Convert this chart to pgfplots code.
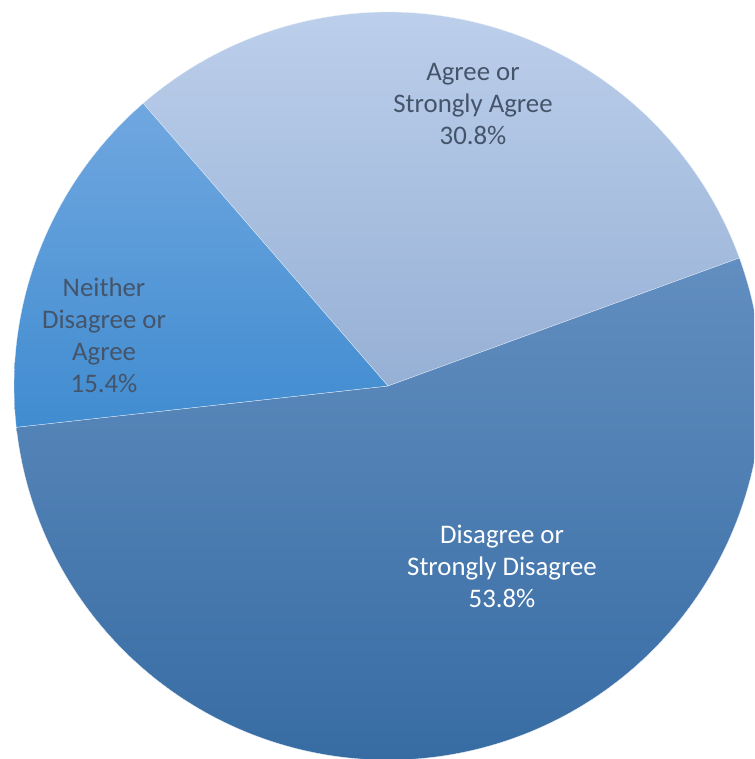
\documentclass[border=0pt]{standalone}
\usepackage{fontspec}
\setmainfont{Carlito}
\usepackage{pgfplots}
\pgfplotsset{compat=1.18}
\definecolor{txtgray}{RGB}{68,84,106}
\definecolor{agTop}{RGB}{188,207,235}
\definecolor{agBot}{RGB}{150,176,213}
\definecolor{diTop}{RGB}{98,142,192}
\definecolor{diBot}{RGB}{55,108,163}
\definecolor{neTop}{RGB}{112,167,224}
\definecolor{neBot}{RGB}{64,140,208}
% shares of the pie (percent)
\def\pAgree{30.8}
\def\pDisagree{53.8}
\def\pNeither{15.4}
\def\startangle{130.9}
\pgfmathsetmacro{\aA}{\startangle}
\pgfmathsetmacro{\aB}{\aA-3.6*\pAgree}
\pgfmathsetmacro{\aC}{\aB-3.6*\pDisagree}
\pgfmathsetmacro{\aD}{\aC-3.6*\pNeither}
\def\cx{388}
\def\cy{373}
\def\rr{374}
\begin{document}
\begin{tikzpicture}
\begin{axis}[
  width=754pt, height=759pt, scale only axis,
  xmin=0, xmax=754, ymin=0, ymax=759,
  hide axis, clip=true,
]
\addplot[draw=white!70!agTop, line width=0.3pt, top color=agTop, bottom color=agBot, domain=\aB:\aA, samples=120]
  ({\cx+\rr*cos(x)}, {\cy+\rr*sin(x)}) -- (axis cs:\cx,\cy) -- cycle;
\addplot[draw=white!70!agTop, line width=0.3pt, top color=diTop, bottom color=diBot, domain=\aC:\aB, samples=200]
  ({\cx+\rr*cos(x)}, {\cy+\rr*sin(x)}) -- (axis cs:\cx,\cy) -- cycle;
\addplot[draw=white!70!agTop, line width=0.3pt, top color=neTop, bottom color=neBot, domain=\aD:\aC, samples=80]
  ({\cx+\rr*cos(x)}, {\cy+\rr*sin(x)}) -- (axis cs:\cx,\cy) -- cycle;
\node[align=center, text=txtgray, font=\fontsize{26.8}{32}\selectfont] at (axis cs:473,655) {Agree or\\Strongly Agree\\30.8\%};
\node[align=center, text=txtgray, font=\fontsize{26.8}{32}\selectfont] at (axis cs:104,424) {Neither\\Disagree or\\Agree\\15.4\%};
\node[align=center, text=white, font=\fontsize{26.8}{32}\selectfont] at (axis cs:502,193) {Disagree or\\Strongly Disagree\\53.8\%};
\end{axis}
\pgfresetboundingbox
\useasboundingbox (current axis.south west) rectangle (current axis.north east);
\end{tikzpicture}
\end{document}
